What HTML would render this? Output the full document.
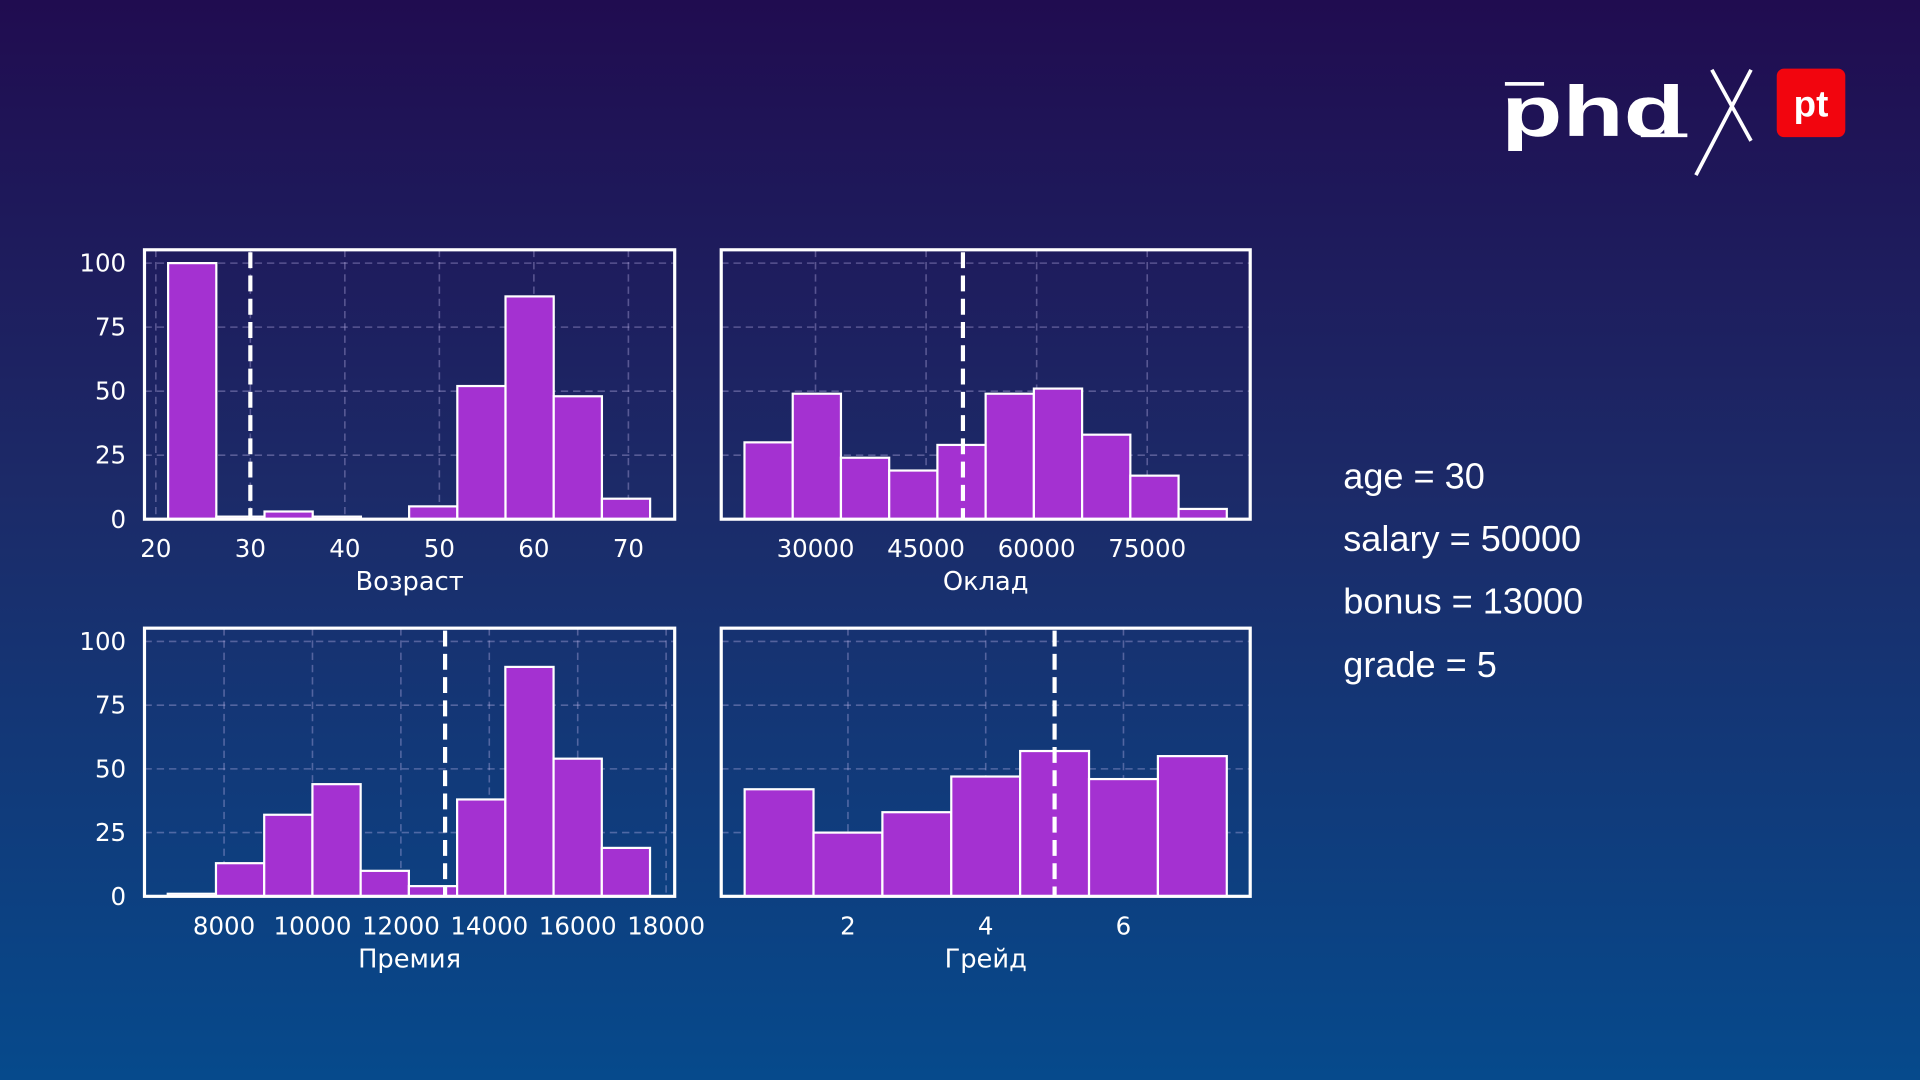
<!DOCTYPE html>
<html><head><meta charset="utf-8"><style>
html,body{margin:0;padding:0;width:1920px;height:1080px;overflow:hidden;background:linear-gradient(180deg,#200c50 0%,#1c2a68 45%,#064a8c 100%);}
svg{display:block}
</style></head><body>
<svg id="s" width="1920" height="1080" viewBox="0 0 1568 882" preserveAspectRatio="none">
<g>
<rect x="1229" y="67" width="32" height="3" fill="#fff"/>
<text x="1226" y="111" font-family="Liberation Sans, sans-serif" font-weight="bold" font-size="58" fill="#fff" textLength="150" lengthAdjust="spacingAndGlyphs">phd</text>
<rect x="1340" y="109" width="38" height="3" fill="#fff"/>
<line x1="1398" y1="57" x2="1430" y2="115" stroke="#fff" stroke-width="3"/>
<line x1="1430" y1="57" x2="1385" y2="143" stroke="#fff" stroke-width="3"/>
<rect x="1451" y="56" width="56" height="56" rx="6" fill="#f2050e"/>
<text x="1479" y="95" text-anchor="middle" font-family="Liberation Sans, sans-serif" font-weight="bold" font-size="30" fill="#fff">pt</text>
</g>
<g font-family="Liberation Sans, sans-serif" font-size="29.5" fill="#fff">
<text x="1097" y="399">age = 30</text>
<text x="1097" y="450">salary = 50000</text>
<text x="1097" y="501">bonus = 13000</text>
<text x="1097" y="553">grade = 5</text>
</g>
</svg>
<script>
// Age
const ageEdgesStart = 21.3, ageBinWidth = 5.1;
const ageCounts = [100, 1, 3, 1, 0, 5, 52, 87, 48, 8];
const ageTicks = [20, 30, 40, 50, 60, 70];
const ageMarker = 30;
// Salary
const salaryStart = 20365, salaryBinWidth = 6543;
const salaryCounts = [30, 49, 24, 19, 29, 49, 51, 33, 17, 4];
const salaryTicks = [30000, 45000, 60000, 75000];
const salaryMarker = 50000;
// Bonus
const bonusStart = 6726, bonusBinWidth = 1091;
const bonusCounts = [1, 13, 32, 44, 10, 4, 38, 90, 54, 19];
const bonusTicks = [8000, 10000, 12000, 14000, 16000, 18000];
const bonusMarker = 13000;
// Grade
const gradeStart = 0.5, gradeBinWidth = 1;
const gradeCounts = [42, 25, 33, 47, 57, 46, 55];
const gradeTicks = [2, 4, 6];
const gradeMarker = 5;
const yTicks = [0, 25, 50, 75, 100];

const NS = 'http://www.w3.org/2000/svg';
const svg = document.getElementById('s');
function mk(tag, attrs, parent) {
  const e = document.createElementNS(NS, tag);
  for (const k in attrs) e.setAttribute(k, attrs[k]);
  parent.appendChild(e);
  return e;
}
function panel(name, box, xmin, xmax, start, bw, counts, ticks, marker, label, showY) {
  const g = mk('g', {}, svg);
  
  
  const [L, T, R, B] = box;
  const base = B, ppu = (B - T) / 105.2;
  const X = v => L + (v - xmin) / (xmax - xmin) * (R - L);
  const Y = v => base - v * ppu;
  const grid = 'rgba(200,190,240,0.35)';
  ticks.forEach(t => {
    const l = mk('line', {x1: X(t), x2: X(t), y1: T, y2: B, stroke: grid, 'stroke-width': 1.3, 'stroke-dasharray': '6,4'}, g);
    
    
    const tx = mk('text', {x: X(t), y: B + 31, 'text-anchor': 'middle', fill: '#fff', 'font-family': 'DejaVu Sans, sans-serif', 'font-size': 20}, g);
    tx.textContent = t;
    
    
  });
  yTicks.forEach(t => {
    if (t > 0) {
      const l = mk('line', {x1: L, x2: R, y1: Y(t), y2: Y(t), stroke: grid, 'stroke-width': 1.3, 'stroke-dasharray': '6,4'}, g);
      
      
    }
    if (showY) {
      const tx = mk('text', {x: L - 15, y: Y(t) + 7, 'text-anchor': 'end', fill: '#fff', 'font-family': 'DejaVu Sans, sans-serif', 'font-size': 20}, g);
      tx.textContent = t;
      
      
    }
  });
  counts.forEach((c, i) => {
    const x0 = X(start + i * bw), x1 = X(start + (i + 1) * bw);
    const r = mk('rect', {x: x0, y: Y(c), width: x1 - x0, height: base - Y(c), fill: '#a431d1', stroke: '#fff', 'stroke-width': 1.8}, g);
    
    
  });
  const m = mk('line', {x1: X(marker), x2: X(marker), y1: T + 2, y2: B, stroke: '#fff', 'stroke-width': 3.4, 'stroke-dasharray': '13,6'}, g);
  
  
  const f = mk('rect', {x: L, y: T, width: R - L, height: B - T, fill: 'none', stroke: '#fff', 'stroke-width': 2.6}, g);
  
  
  const al = mk('text', {x: (L + R) / 2, y: B + 58, 'text-anchor': 'middle', fill: '#fff', 'font-family': 'DejaVu Sans, sans-serif', 'font-size': 21}, g);
  al.textContent = label;
  
  
}
panel('age', [118, 204, 551, 424], 18.8, 74.9, ageEdgesStart, ageBinWidth, ageCounts, ageTicks, ageMarker, 'Возраст', true);
panel('salary', [589, 204, 1021, 424], 17209, 88970, salaryStart, salaryBinWidth, salaryCounts, salaryTicks, salaryMarker, 'Оклад', false);
panel('bonus', [118, 513, 551, 732], 6200, 18194, bonusStart, bonusBinWidth, bonusCounts, bonusTicks, bonusMarker, 'Премия', true);
panel('grade', [589, 513, 1021, 732], 0.16, 7.84, gradeStart, gradeBinWidth, gradeCounts, gradeTicks, gradeMarker, 'Грейд', false);
</script>
</body></html>
